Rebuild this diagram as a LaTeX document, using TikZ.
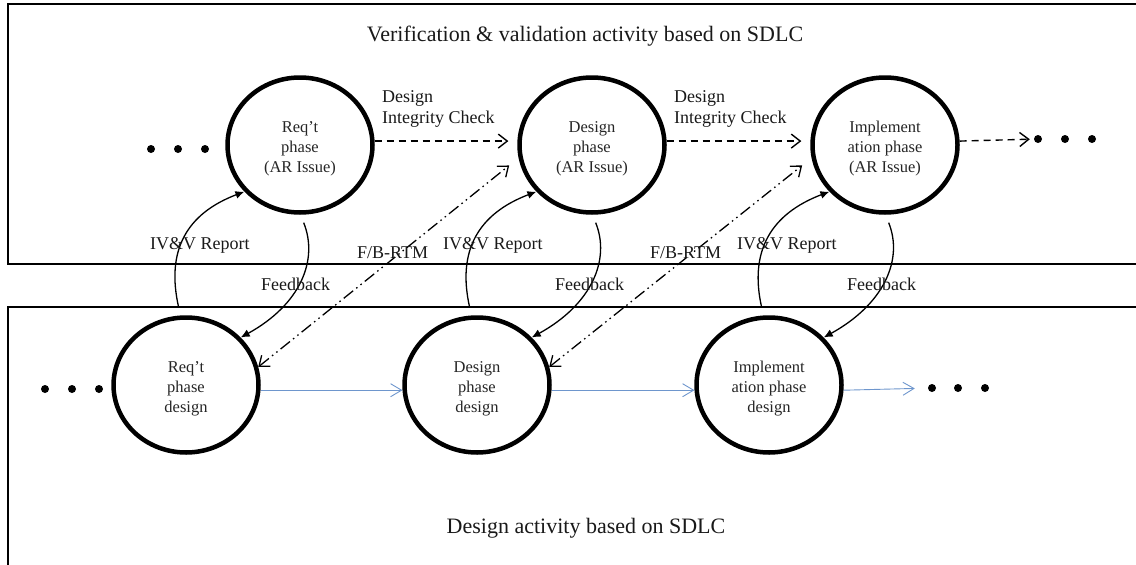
\documentclass[tikz,border=0pt]{standalone}
\usepackage{fontspec}
\setmainfont{Liberation Serif}
\usetikzlibrary{arrows.meta,shapes.geometric,calc}
\definecolor{flowblue}{RGB}{110,150,205}
% extra room above the first line of a phase label, so the text sits a little lower
\newcommand\phaselift{\rule{0pt}{19pt}}
\begin{document}
\begin{tikzpicture}[x=1pt,y=-1pt,
  phase/.style={ellipse, draw, line width=4.5pt, minimum width=145pt, minimum height=135pt,
    inner sep=0pt, align=center, font=\fontsize{16.5}{20}\selectfont, text=black!85},
  lbl/.style={anchor=base west, inner sep=0pt, font=\fontsize{18}{21.5}\selectfont, text=black!90},
  heading/.style={anchor=base, inner sep=0pt, font=\fontsize{22}{26}\selectfont, text=black!90},
  frame/.style={line width=1.5pt},
  dotmark/.style={circle, fill, inner sep=0pt, minimum size=8pt},
  integrity/.style={line width=1.4pt, dash pattern=on 7pt off 5pt,
    -{Straight Barb[length=9pt,width=14pt,line width=1.4pt]}, shorten >=9pt},
  flow/.style={flowblue, line width=0.9pt, -{Straight Barb[length=11pt,width=13pt,line width=0.9pt]}},
  report/.style={line width=1.3pt, -{Latex[length=9pt,width=8pt]}},
  rtm/.style={line width=1.3pt, dash pattern=on 12pt off 4pt on 1.5pt off 4pt on 1.5pt off 4pt,
    {Straight Barb[length=9pt,width=14pt,line width=1.3pt]}-{Straight Barb[length=9pt,width=14pt,line width=1.3pt]},
    shorten >=12pt}
]
\useasboundingbox (0,0) rectangle (1136,565);

% frames of the two activity bands
\draw[frame] (1136,4) -- (8,4) -- (8,264) -- (1136,264);
\draw[frame] (1136,307) -- (8,307) -- (8,565);

% headings
\node[heading] (vvtitle) at (585,41) {Verification \& validation activity based on SDLC};
\node[heading] (dtitle) at (586,533) {Design activity based on SDLC};

% V&V phases
\node[phase] (T1) at (300,145) {\phaselift Req'{}t\\phase\\(AR Issue)};
\node[phase] (T2) at (592,145) {\phaselift Design\\phase\\(AR Issue)};
\node[phase] (T3) at (885,145) {\phaselift Implement\\ation phase\\(AR Issue)};

% design phases
\node[phase] (B1) at (186,385) {\phaselift Req'{}t\\phase\\design};
\node[phase] (B2) at (477,385) {\phaselift Design\\phase\\design};
\node[phase] (B3) at (769,385) {\phaselift Implement\\ation phase\\design};

% continuation dots
\node[dotmark] (dTL1) at (151,149) {};
\node[dotmark] (dTL2) at (178,149) {};
\node[dotmark] (dTL3) at (205,149) {};
\node[dotmark] (dTR1) at (1038,139) {};
\node[dotmark] (dTR2) at (1065,139) {};
\node[dotmark] (dTR3) at (1092,139) {};
\node[dotmark] (dBL1) at (45,389) {};
\node[dotmark] (dBL2) at (72,389) {};
\node[dotmark] (dBL3) at (99,389) {};
\node[dotmark] (dBR1) at (932,388) {};
\node[dotmark] (dBR2) at (958,388) {};
\node[dotmark] (dBR3) at (985,388) {};

% design integrity checks
\draw[integrity] (T1.3) -- (T2.177);
\draw[integrity] (T2.3) -- (T3.177);
\draw[integrity, shorten >=4pt] (T3.3) -- (dTR1);
\node[lbl] (dic1) at (382,102) {\begin{tabular}[t]{@{}l@{}}Design\\Integrity Check\end{tabular}};
\node[lbl] (dic2) at (674,102) {\begin{tabular}[t]{@{}l@{}}Design\\Integrity Check\end{tabular}};

% design flow
\draw[flow] (B1.-4) -- (B2.184);
\draw[flow] (B2.-4) -- (B3.184);
\draw[flow, shorten >=13pt] (B3.-4) -- (dBR1);

% IV&V reports and feedback
\draw[report] ([yshift=8pt]B1.96) .. controls +(-13,-57) and +(-58,22) .. (T1.220);
\draw[report] ([yshift=8pt]B2.96) .. controls +(-13,-57) and +(-58,22) .. (T2.220);
\draw[report] ([yshift=8pt]B3.96) .. controls +(-13,-57) and +(-58,22) .. (T3.220);
\draw[report] ([yshift=-8pt]T1.273) .. controls +(15,37) and +(60,-33) .. (B1.41);
\draw[report] ([yshift=-8pt]T2.273) .. controls +(15,37) and +(60,-33) .. (B2.41);
\draw[report] ([yshift=-8pt]T3.273) .. controls +(15,37) and +(60,-33) .. (B3.41);

% forward/backward requirement traceability
\draw[rtm] (B1.14) -- (T2.190);
\draw[rtm] (B2.14) -- (T3.190);

% connector labels
\node[lbl] (iv1) at (150,249) {IV\&V Report};
\node[lbl] (iv2) at (443,249) {IV\&V Report};
\node[lbl] (iv3) at (737,249) {IV\&V Report};
\node[lbl] (fb1) at (261,290) {Feedback};
\node[lbl] (fb2) at (555,290) {Feedback};
\node[lbl] (fb3) at (847,290) {Feedback};
\node[lbl] (rtm1) at (357,258) {F/B-RTM};
\node[lbl] (rtm2) at (650,258) {F/B-RTM};
\end{tikzpicture}
\end{document}
